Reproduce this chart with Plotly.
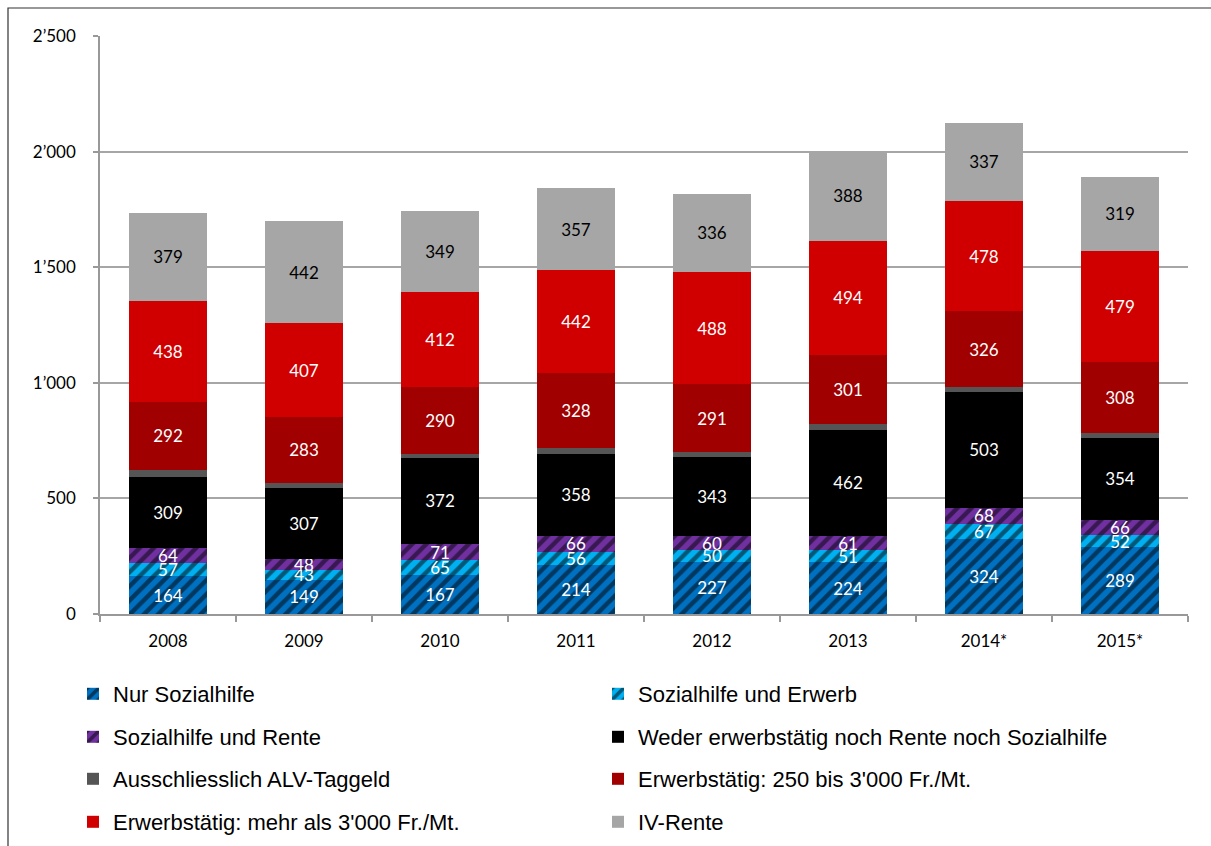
import plotly.graph_objects as go

years = ["2008", "2009", "2010", "2011", "2012", "2013", "2014*", "2015*"]

nur_sozialhilfe = [164, 149, 167, 214, 227, 224, 324, 289]
sozialhilfe_erwerb = [57, 43, 65, 56, 50, 51, 67, 52]
sozialhilfe_rente = [64, 48, 71, 66, 60, 61, 68, 66]
weder = [309, 307, 372, 358, 343, 462, 503, 354]
alv_taggeld = [31, 21, 17, 22, 22, 22, 21, 23]
erwerb_250_3000 = [292, 283, 290, 328, 291, 301, 326, 308]
erwerb_ueber_3000 = [438, 407, 412, 442, 488, 494, 478, 479]
iv_rente = [379, 442, 349, 357, 336, 388, 337, 319]

y_tickvals = [0, 500, 1000, 1500, 2000, 2500]
y_ticktext = ["0", "500", "1\u2019000", "1\u2019500", "2\u2019000", "2\u2019500"]

series = [
    ("Nur Sozialhilfe", nur_sozialhilfe, "#0070C0", True, "white", True),
    ("Sozialhilfe und Erwerb", sozialhilfe_erwerb, "#00B0F0", True, "white", True),
    ("Sozialhilfe und Rente", sozialhilfe_rente, "#7030A0", True, "white", True),
    ("Weder erwerbstätig noch Rente noch Sozialhilfe", weder, "#000000", False, "white", True),
    ("Ausschliesslich ALV-Taggeld", alv_taggeld, "#555555", False, "white", False),
    ("Erwerbstätig: 250 bis 3'000 Fr./Mt.", erwerb_250_3000, "#A00000", False, "white", True),
    ("Erwerbstätig: mehr als 3'000 Fr./Mt.", erwerb_ueber_3000, "#D00000", False, "white", True),
    ("IV-Rente", iv_rente, "#A6A6A6", False, "black", True),
]

# legend placement: two columns, four rows (paper coordinates)
PLOT_L, PLOT_W, PLOT_B, PLOT_H = 100, 1088, 614, 578
col_px = [73, 598]
row_px = [694, 737, 779, 822]

fig = go.Figure()
for i, (name, vals, color, striped, tcolor, labelled) in enumerate(series):
    pattern = dict(shape="/", fgcolor="black", bgcolor=color, size=10, solidity=0.45) if striped else dict(shape="")
    legend_id = "legend" if i == 0 else f"legend{i + 1}"
    fig.add_trace(go.Bar(
        x=years, y=vals, name=name,
        marker=dict(color=color, pattern=pattern, line=dict(width=0)),
        text=vals if labelled else None,
        texttemplate="%{text}" if labelled else None,
        textposition="inside" if labelled else "none",
        insidetextanchor="middle",
        textangle=0,
        textfont=dict(family="Lato", size=17, color=tcolor),
        legend=legend_id,
        hoverinfo="skip",
    ))

legend_layout = {}
for i in range(8):
    row, col = divmod(i, 2)
    key = "legend" if i == 0 else f"legend{i + 1}"
    legend_layout[key] = dict(
        x=(col_px[col] - PLOT_L) / PLOT_W,
        y=(PLOT_B - row_px[row]) / PLOT_H,
        xanchor="left", yanchor="middle",
        font=dict(family="Liberation Sans", size=22, color="black"),
        bgcolor="rgba(0,0,0,0)", borderwidth=0,
        itemwidth=30,
    )

fig.update_layout(
    barmode="stack",
    bargap=0.43,
    width=1211, height=846,
    margin=dict(l=PLOT_L, r=1211 - PLOT_L - PLOT_W, t=PLOT_B - PLOT_H, b=846 - PLOT_B, autoexpand=False),
    paper_bgcolor="white",
    plot_bgcolor="white",
    uniformtext=dict(minsize=17, mode="show"),
    showlegend=True,
    **legend_layout,
)

fig.update_xaxes(
    type="category",
    showline=True, linecolor="#999999", linewidth=1.5,
    ticks="outside", ticklen=6, tickcolor="#999999", tickwidth=1.5,
    tickson="boundaries",
    tickfont=dict(family="Lato", size=17, color="black"),
    ticklabelstandoff=11,
    showgrid=False,
)
fig.update_yaxes(
    range=[0, 2500],
    tickvals=y_tickvals, ticktext=y_ticktext,
    showline=True, linecolor="#999999", linewidth=1.5,
    ticks="outside", ticklen=5, tickcolor="#999999", tickwidth=1.5,
    tickfont=dict(family="Lato", size=17, color="black"),
    ticklabelstandoff=14,
    showgrid=True, gridcolor="#A6A6A6", gridwidth=1.5,
    zeroline=False,
)

# outer frame around the whole graphic
fig.add_shape(
    type="rect", xref="paper", yref="paper",
    x0=(8 - PLOT_L) / PLOT_W, x1=(1240 - PLOT_L) / PLOT_W,
    y0=(PLOT_B - 880) / PLOT_H, y1=(PLOT_B - 8) / PLOT_H,
    line=dict(color="#333333", width=1.2), fillcolor="rgba(0,0,0,0)",
    layer="below",
)

fig.write_html("out.html")
